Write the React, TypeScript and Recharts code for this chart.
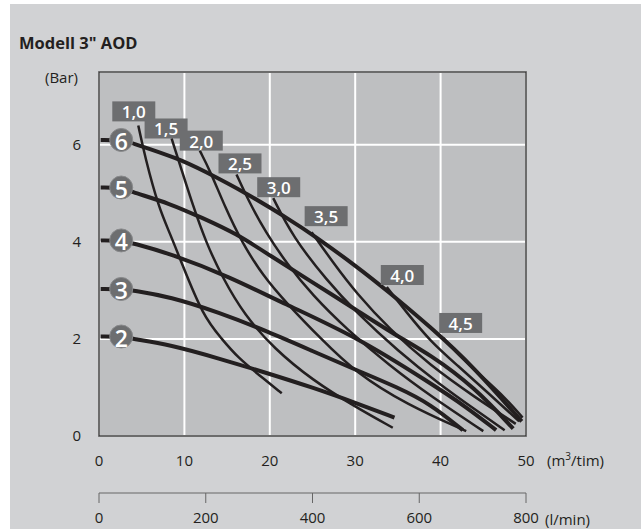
import { CartesianGrid, Line, LineChart, ReferenceArea, XAxis, YAxis } from 'recharts';

// axes
const FLOW_TICKS = [0, 10, 20, 30, 40, 50];
const LPM_TICKS = [0, 200, 400, 600, 800];
const BAR_TICKS = [0, 2, 4, 6];

// thick curves: outlet pressure at given air pressure (bar)
const PRESSURE_LABELS = ['2', '3', '4', '5', '6'];
const BAR_2: [number, number][] = [[0.2, 2.05], [2.6, 2.05], [4, 2.0], [8.3, 1.88], [14, 1.6], [19.8, 1.29], [25, 1.0], [30.1, 0.68], [34.6, 0.38]];
const BAR_3: [number, number][] = [[0.2, 3.03], [2.6, 3.03], [4, 3.0], [8.3, 2.87], [14, 2.55], [19.8, 2.15], [25, 1.75], [30.1, 1.36], [35, 1.0], [38.8, 0.66], [42.6, 0.12]];
const BAR_4: [number, number][] = [[0.2, 4.03], [2.6, 4.03], [4, 3.97], [8.3, 3.76], [15.3, 3.28], [21.6, 2.73], [30.1, 2.05], [38.8, 1.09], [43, 0.6], [46.5, 0.12]];
const BAR_5: [number, number][] = [[0.2, 5.12], [2.6, 5.12], [4, 5.02], [8.3, 4.79], [12, 4.5], [16.1, 4.17], [20, 3.72], [24.7, 3.2], [30.1, 2.6], [34.5, 2.1], [38.8, 1.68], [44, 1.0], [48.5, 0.15]];
const BAR_6: [number, number][] = [[0.2, 6.1], [2.6, 6.1], [4, 6.03], [9.25, 5.72], [12.2, 5.47], [17.3, 5.0], [22.4, 4.45], [25.1, 4.14], [30.2, 3.49], [33.7, 3.0], [38.8, 2.25], [44, 1.4], [49.5, 0.3]];
const PRESSURE_CURVES = [BAR_2, BAR_3, BAR_4, BAR_5, BAR_6];

// thin curves: air consumption
const AIR_LABELS = ['1,0', '1,5', '2,0', '2,5', '3,0', '3,5', '4,0', '4,5'];
const AIR_10: [number, number][] = [[4.6, 6.4], [5.4, 5.74], [7.0, 4.7], [8.3, 4.18], [9.6, 3.6], [12.2, 2.46], [14.4, 2.0], [16.1, 1.64], [19.4, 1.16], [21.4, 0.88]];
const AIR_15: [number, number][] = [[8.5, 6.13], [9.7, 5.47], [11.0, 4.75], [12.5, 4.0], [14.5, 3.25], [17, 2.5], [20.5, 1.8], [25, 1.15], [30, 0.6], [34.4, 0.17]];
const AIR_20: [number, number][] = [[11.8, 5.88], [13.0, 5.47], [14.8, 4.7], [16.7, 4.0], [19.2, 3.3], [22, 2.73], [26, 2.0], [30.1, 1.3], [36, 0.65], [43, 0.1]];
const AIR_25: [number, number][] = [[16.1, 5.39], [17.5, 4.85], [19.5, 4.2], [22, 3.55], [25, 2.9], [29, 2.2], [34, 1.45], [39, 0.8], [45, 0.1]];
const AIR_30: [number, number][] = [[20.4, 4.9], [22.7, 4.1], [26.7, 3.2], [30.1, 2.55], [35, 1.75], [40, 1.05], [44, 0.55], [47.5, 0.12]];
const AIR_35: [number, number][] = [[24.9, 4.2], [27.5, 3.55], [30.1, 2.95], [34, 2.2], [38.8, 1.45], [44, 0.8], [48.8, 0.25]];
const AIR_40: [number, number][] = [[33.7, 3.07], [36, 2.55], [38.8, 1.95], [42, 1.45], [45.5, 0.9], [49.2, 0.3]];
const AIR_45: [number, number][] = [[40.3, 2.02], [42.5, 1.6], [45, 1.2], [47.5, 0.8], [49.6, 0.38]];
const AIR_CURVES = [AIR_10, AIR_15, AIR_20, AIR_25, AIR_30, AIR_35, AIR_40, AIR_45];

// label box placement relative to the start of each thin curve (px)
const AIR_BOX_OFFSET = [[-26, -24], [-27, -20], [-20, -20], [-18, -21], [-16, -21], [-7, -26], [-6, -22], [-4, -25]];

const INK = '#231f20';
const BADGE = '#6d6e70';
const FONT = '"Open Sans", "Noto Sans", sans-serif';

const toData = (pts: [number, number][]) => pts.map(([x, y]) => ({ x, y }));

const pressureDot = (label: string) => (props: any) => {
  const { cx, cy, index } = props;
  if (index !== 1) return <g key={`p${label}-${index}`} />;
  return (
    <g key={`p${label}-${index}`}>
      <circle cx={cx} cy={cy} r={11.5} fill={BADGE} stroke="#88898b" strokeWidth={1} />
      <text x={cx} y={cy + 1} textAnchor="middle" dominantBaseline="central" fill="#fff" fontSize={23} fontWeight={600} fontFamily={FONT}>
        {label}
      </text>
    </g>
  );
};

const airDot = (i: number) => (props: any) => {
  const { cx, cy, index } = props;
  if (index !== 0) return <g key={`a${i}-${index}`} />;
  const [dx, dy] = AIR_BOX_OFFSET[i];
  return (
    <g key={`a${i}-${index}`}>
      <rect x={cx + dx} y={cy + dy} width={43} height={20} fill={BADGE} />
      <text x={cx + dx + 21.5} y={cy + dy + 10.5} textAnchor="middle" dominantBaseline="central" fill="#fff" fontSize={17} fontWeight={600} fontFamily={FONT}>
        {AIR_LABELS[i]}
      </text>
    </g>
  );
};

export default function App() {
  return (
    <div style={{ position: 'absolute', left: 0, top: 0, width: 641, height: 529, background: '#fff', fontFamily: FONT, color: INK, overflow: 'hidden' }}>
      <div style={{ position: 'absolute', left: 10, top: 4, width: 631, height: 525, background: '#d1d2d4' }} />
      <div style={{ position: 'absolute', left: 19, top: 33, fontSize: 16.5, fontWeight: 700, lineHeight: '20px' }}>Modell 3" AOD</div>
      <div style={{ position: 'absolute', left: 45, top: 67, fontSize: 15, lineHeight: '20px' }}>(Bar)</div>
      <div style={{ position: 'absolute', left: 547, top: 450, fontSize: 15, lineHeight: '20px' }}>
        (m<span style={{ fontSize: 10, verticalAlign: 'top', lineHeight: '12px' }}>3</span>/tim)
      </div>
      <div style={{ position: 'absolute', left: 545, top: 510, fontSize: 15, lineHeight: '18px' }}>(l/min)</div>
      <div style={{ position: 'absolute', left: 0, top: 0 }}>
        <LineChart width={641} height={529} margin={{ top: 72, right: 115, bottom: 0, left: 0 }}>
          <CartesianGrid fill="#bebfc1" stroke="#ffffff" strokeWidth={2} />
          <XAxis
            type="number"
            dataKey="x"
            domain={[0, 50]}
            ticks={FLOW_TICKS}
            allowDataOverflow
            height={57}
            axisLine={false}
            tickLine={false}
            tickMargin={13}
            tick={{ fill: INK, fontSize: 15, fontFamily: FONT }}
          />
          <XAxis
            xAxisId="lpm"
            type="number"
            dataKey="x"
            domain={[0, 800]}
            ticks={LPM_TICKS}
            allowDataOverflow
            height={36}
            axisLine={{ stroke: '#666' }}
            tickLine={{ stroke: '#666' }}
            tickSize={10}
            tickMargin={9}
            tick={{ fill: INK, fontSize: 15, fontFamily: FONT }}
          />
          <YAxis
            type="number"
            domain={[0, 7.5]}
            ticks={BAR_TICKS}
            allowDataOverflow
            width={99}
            axisLine={false}
            tickLine={false}
            tickMargin={12}
            tick={{ fill: INK, fontSize: 15, fontFamily: FONT }}
          />
          <ReferenceArea x1={0} x2={50} y1={0} y2={7.5} fill="none" stroke="#3c3c3c" strokeWidth={1.5} />
          {/* invisible series so the l/min axis gets drawn */}
          <Line
            xAxisId="lpm"
            data={LPM_TICKS.map((x) => ({ x, y: 0 }))}
            dataKey="y"
            stroke="none"
            dot={false}
            activeDot={false}
            isAnimationActive={false}
          />
          {PRESSURE_CURVES.map((pts, i) => (
            <Line
              key={`bar${PRESSURE_LABELS[i]}`}
              data={toData(pts)}
              dataKey="y"
              type="basis"
              stroke={INK}
              strokeWidth={4}
              dot={pressureDot(PRESSURE_LABELS[i])}
              activeDot={false}
              isAnimationActive={false}
            />
          ))}
          {AIR_CURVES.map((pts, i) => (
            <Line
              key={`air${i}`}
              data={toData(pts)}
              dataKey="y"
              type="basis"
              stroke={INK}
              strokeWidth={2.5}
              dot={airDot(i)}
              activeDot={false}
              isAnimationActive={false}
            />
          ))}
        </LineChart>
      </div>
    </div>
  );
}
